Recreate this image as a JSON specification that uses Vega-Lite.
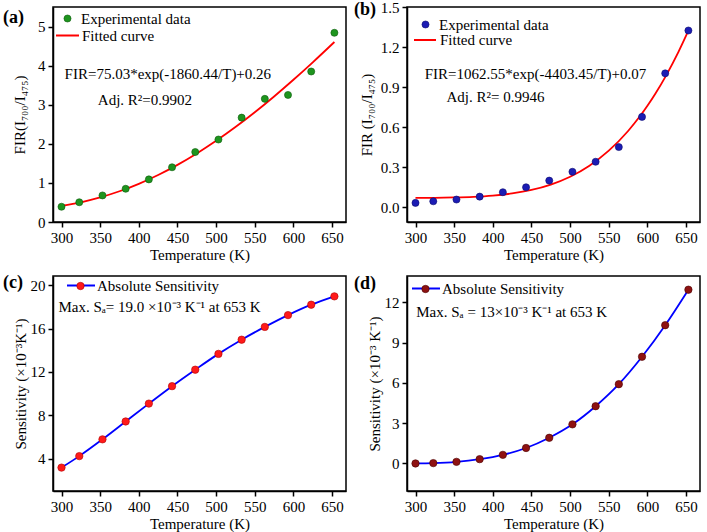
{
  "$schema": "https://vega.github.io/schema/vega-lite/v6.json",
  "padding": {"left": 2, "top": -1, "right": 0, "bottom": 0},
  "background": "white",
  "columns": 2,
  "spacing": {"row": 54, "column": 61},
  "bounds": "flush",
  "resolve": {
    "scale": {"color": "independent", "fill": "independent", "x": "independent", "y": "independent"},
    "legend": {"color": "independent", "fill": "independent"}
  },
  "datasets": {
    "a_exp": [
      {"T": 300, "FIR": 0.39}, {"T": 323, "FIR": 0.505}, {"T": 353, "FIR": 0.68}, {"T": 383, "FIR": 0.85},
      {"T": 413, "FIR": 1.09}, {"T": 443, "FIR": 1.4}, {"T": 473, "FIR": 1.79}, {"T": 503, "FIR": 2.11},
      {"T": 533, "FIR": 2.67}, {"T": 563, "FIR": 3.15}, {"T": 593, "FIR": 3.25}, {"T": 623, "FIR": 3.85},
      {"T": 653, "FIR": 4.84}
    ],
    "a_fit": [
      {"T": 300, "FIR": 0.412}, {"T": 325, "FIR": 0.505}, {"T": 350, "FIR": 0.629}, {"T": 375, "FIR": 0.786},
      {"T": 400, "FIR": 0.977}, {"T": 425, "FIR": 1.202}, {"T": 450, "FIR": 1.462}, {"T": 475, "FIR": 1.754},
      {"T": 500, "FIR": 2.077}, {"T": 525, "FIR": 2.429}, {"T": 550, "FIR": 2.808}, {"T": 575, "FIR": 3.212},
      {"T": 600, "FIR": 3.638}, {"T": 625, "FIR": 4.084}, {"T": 653, "FIR": 4.604}
    ],
    "b_exp": [
      {"T": 300, "FIR": 0.033}, {"T": 323, "FIR": 0.045}, {"T": 353, "FIR": 0.058}, {"T": 383, "FIR": 0.08},
      {"T": 413, "FIR": 0.113}, {"T": 443, "FIR": 0.15}, {"T": 473, "FIR": 0.2}, {"T": 503, "FIR": 0.266},
      {"T": 533, "FIR": 0.341}, {"T": 563, "FIR": 0.451}, {"T": 593, "FIR": 0.677}, {"T": 623, "FIR": 1.003},
      {"T": 653, "FIR": 1.324}
    ],
    "b_fit": [
      {"T": 300, "FIR": 0.0704}, {"T": 325, "FIR": 0.0714}, {"T": 350, "FIR": 0.0737}, {"T": 375, "FIR": 0.0784},
      {"T": 400, "FIR": 0.0876}, {"T": 425, "FIR": 0.1036}, {"T": 450, "FIR": 0.1298}, {"T": 475, "FIR": 0.1701},
      {"T": 500, "FIR": 0.2291}, {"T": 525, "FIR": 0.3119}, {"T": 550, "FIR": 0.4242}, {"T": 575, "FIR": 0.5717},
      {"T": 590, "FIR": 0.6795}, {"T": 600, "FIR": 0.7603}, {"T": 610, "FIR": 0.8485}, {"T": 625, "FIR": 0.9958},
      {"T": 640, "FIR": 1.162}, {"T": 653, "FIR": 1.3223}
    ],
    "c_sa": [
      {"T": 300, "S": 3.16}, {"T": 323, "S": 4.22}, {"T": 353, "S": 5.77}, {"T": 383, "S": 7.42},
      {"T": 413, "S": 9.07}, {"T": 443, "S": 10.68}, {"T": 473, "S": 12.2}, {"T": 503, "S": 13.66},
      {"T": 533, "S": 14.97}, {"T": 563, "S": 16.15}, {"T": 593, "S": 17.24}, {"T": 623, "S": 18.2},
      {"T": 653, "S": 18.97}
    ],
    "d_sa": [
      {"T": 300, "S": 0.0}, {"T": 323, "S": 0.025}, {"T": 353, "S": 0.12}, {"T": 383, "S": 0.32},
      {"T": 413, "S": 0.64}, {"T": 443, "S": 1.15}, {"T": 473, "S": 1.91}, {"T": 503, "S": 2.91},
      {"T": 533, "S": 4.26}, {"T": 563, "S": 5.9}, {"T": 593, "S": 7.94}, {"T": 623, "S": 10.29},
      {"T": 653, "S": 12.93}
    ],
    "one": [{}]
  },
  "concat": [
    {
      "width": 293, "height": 215,
      "title": {"text": "(a)", "anchor": "start", "frame": "group", "orient": "top", "offset": 0, "dx": -50, "dy": 33.5, "baseline": "alphabetic", "fontSize": 18, "fontWeight": "bold", "font": "Liberation Serif", "color": "black"},
      "resolve": {"scale": {"color": "independent", "fill": "independent"}},
      "layer": [
        {
          "data": {"name": "a_fit"},
          "mark": {"type": "line", "interpolate": "monotone", "strokeWidth": 1.8},
          "encoding": {
            "x": {"field": "T", "type": "quantitative", "scale": {"domain": [289, 668], "nice": false, "zero": false}, "axis": {"values": [300, 350, 400, 450, 500, 550, 600, 650], "title": "Temperature (K)"}},
            "y": {"field": "FIR", "type": "quantitative", "scale": {"domain": [0, 5.5], "nice": false, "zero": false}, "axis": {"values": [0, 1, 2, 3, 4, 5], "title": "FIR(I₇₀₀/I₄₇₅)", "titlePadding": 10}},
            "color": {"datum": "Fitted curve", "scale": {"domain": ["Fitted curve"], "range": ["#ff0000"]}, "legend": {"orient": "none", "legendX": 2, "legendY": 16, "symbolType": "stroke", "symbolSize": 529, "symbolStrokeWidth": 2, "labelOffset": 2, "title": null}}
          }
        },
        {
          "data": {"name": "a_exp"},
          "mark": {"type": "point", "filled": true, "size": 50, "opacity": 1, "stroke": "#0b5a0b", "strokeWidth": 0.6},
          "encoding": {
            "x": {"field": "T", "type": "quantitative"},
            "y": {"field": "FIR", "type": "quantitative"},
            "fill": {"datum": "Experimental data", "scale": {"domain": ["Experimental data"], "range": ["#1e951e"]}, "legend": {"orient": "none", "legendX": 7, "legendY": 4, "symbolType": "circle", "symbolSize": 50, "symbolStrokeColor": "#0b5a0b", "symbolStrokeWidth": 0.6, "labelOffset": 6, "title": null}}
          }
        },
        {
          "data": {"name": "one"},
          "mark": {"type": "text", "align": "left", "baseline": "middle", "fontSize": 15},
          "encoding": {"x": {"datum": 304, "type": "quantitative"}, "y": {"datum": 3.78, "type": "quantitative"}, "text": {"value": "FIR=75.03*exp(-1860.44/T)+0.26"}}
        },
        {
          "data": {"name": "one"},
          "mark": {"type": "text", "align": "left", "baseline": "middle", "fontSize": 15},
          "encoding": {"x": {"datum": 347, "type": "quantitative"}, "y": {"datum": 3.13, "type": "quantitative"}, "text": {"value": "Adj. R²=0.9902"}}
        }
      ]
    },
    {
      "width": 293, "height": 215,
      "title": {"text": "(b)", "anchor": "start", "frame": "group", "orient": "top", "offset": 0, "dx": -53, "dy": 32.5, "baseline": "alphabetic", "fontSize": 18, "fontWeight": "bold", "font": "Liberation Serif", "color": "black"},
      "resolve": {"scale": {"color": "independent", "fill": "independent"}},
      "layer": [
        {
          "data": {"name": "b_fit"},
          "mark": {"type": "line", "interpolate": "monotone", "strokeWidth": 1.8},
          "encoding": {
            "x": {"field": "T", "type": "quantitative", "scale": {"domain": [289, 668], "nice": false, "zero": false}, "axis": {"values": [300, 350, 400, 450, 500, 550, 600, 650], "title": "Temperature (K)"}},
            "y": {"field": "FIR", "type": "quantitative", "scale": {"domain": [-0.11, 1.5], "nice": false, "zero": false}, "axis": {"values": [0, 0.3, 0.6, 0.9, 1.2, 1.5], "format": ".1f", "title": "FIR (I₇₀₀/I₄₇₅)"}},
            "color": {"datum": "Fitted curve", "scale": {"domain": ["Fitted curve"], "range": ["#ff0000"]}, "legend": {"orient": "none", "legendX": 6, "legendY": 21, "symbolType": "stroke", "symbolSize": 484, "symbolStrokeWidth": 2, "labelOffset": 3, "title": null}}
          }
        },
        {
          "data": {"name": "b_exp"},
          "mark": {"type": "point", "filled": true, "size": 50, "opacity": 1, "stroke": "#0a0a6e", "strokeWidth": 0.6},
          "encoding": {
            "x": {"field": "T", "type": "quantitative"},
            "y": {"field": "FIR", "type": "quantitative"},
            "fill": {"datum": "Experimental data", "scale": {"domain": ["Experimental data"], "range": ["#1c1cb4"]}, "legend": {"orient": "none", "legendX": 11, "legendY": 10, "symbolType": "circle", "symbolSize": 50, "symbolStrokeColor": "#0a0a6e", "symbolStrokeWidth": 0.6, "labelOffset": 6, "title": null}}
          }
        },
        {
          "data": {"name": "one"},
          "mark": {"type": "text", "align": "left", "baseline": "middle", "fontSize": 15},
          "encoding": {"x": {"datum": 312, "type": "quantitative"}, "y": {"datum": 1.0, "type": "quantitative"}, "text": {"value": "FIR=1062.55*exp(-4403.45/T)+0.07"}}
        },
        {
          "data": {"name": "one"},
          "mark": {"type": "text", "align": "left", "baseline": "middle", "fontSize": 15},
          "encoding": {"x": {"datum": 340, "type": "quantitative"}, "y": {"datum": 0.825, "type": "quantitative"}, "text": {"value": "Adj. R²= 0.9946"}}
        }
      ]
    },
    {
      "width": 293, "height": 215,
      "title": {"text": "(c)", "anchor": "start", "frame": "group", "orient": "top", "offset": 0, "dx": -50, "dy": 35, "baseline": "alphabetic", "fontSize": 18, "fontWeight": "bold", "font": "Liberation Serif", "color": "black"},
      "resolve": {"scale": {"color": "independent", "fill": "independent"}},
      "layer": [
        {
          "data": {"name": "c_sa"},
          "mark": {"type": "line", "interpolate": "monotone", "strokeWidth": 1.8},
          "encoding": {
            "x": {"field": "T", "type": "quantitative", "scale": {"domain": [289, 668], "nice": false, "zero": false}, "axis": {"values": [300, 350, 400, 450, 500, 550, 600, 650], "title": "Temperature (K)"}},
            "y": {"field": "S", "type": "quantitative", "scale": {"domain": [1, 20.85], "nice": false, "zero": false}, "axis": {"values": [4, 8, 12, 16, 20], "title": "Sensitivity (×10⁻³K⁻¹)", "titlePadding": 2}},
            "color": {"datum": "Absolute Sensitivity", "scale": {"domain": ["Absolute Sensitivity"], "range": ["#0000ff"]}, "legend": {"orient": "none", "legendX": 13, "legendY": -5.5, "symbolType": "stroke", "symbolSize": 784, "symbolStrokeWidth": 2, "labelOffset": 1, "title": null}}
          }
        },
        {
          "data": {"name": "c_sa"},
          "mark": {"type": "point", "filled": true, "size": 55, "opacity": 1, "stroke": "#b00000", "strokeWidth": 0.6},
          "encoding": {
            "x": {"field": "T", "type": "quantitative"},
            "y": {"field": "S", "type": "quantitative"},
            "fill": {"datum": "pt", "scale": {"domain": ["pt"], "range": ["#ff1a1a"]}, "legend": {"orient": "none", "legendX": 20, "legendY": 2.5, "symbolType": "circle", "symbolSize": 55, "symbolStrokeColor": "#b00000", "symbolStrokeWidth": 0.6, "labelExpr": "''", "title": null}}
          }
        },
        {
          "data": {"name": "one"},
          "mark": {"type": "text", "align": "left", "baseline": "middle", "fontSize": 15},
          "encoding": {"x": {"datum": 296, "type": "quantitative"}, "y": {"datum": 17.95, "type": "quantitative"}, "text": {"value": "Max. Sₐ= 19.0 ×10⁻³ K⁻¹ at 653 K"}}
        }
      ]
    },
    {
      "width": 293, "height": 215,
      "title": {"text": "(d)", "anchor": "start", "frame": "group", "orient": "top", "offset": 0, "dx": -53, "dy": 33, "baseline": "alphabetic", "fontSize": 18, "fontWeight": "bold", "font": "Liberation Serif", "color": "black"},
      "resolve": {"scale": {"color": "independent", "fill": "independent"}},
      "layer": [
        {
          "data": {"name": "d_sa"},
          "mark": {"type": "line", "interpolate": "monotone", "strokeWidth": 1.8},
          "encoding": {
            "x": {"field": "T", "type": "quantitative", "scale": {"domain": [289, 668], "nice": false, "zero": false}, "axis": {"values": [300, 350, 400, 450, 500, 550, 600, 650], "title": "Temperature (K)"}},
            "y": {"field": "S", "type": "quantitative", "scale": {"domain": [-2.05, 13.95], "nice": false, "zero": false}, "axis": {"values": [0, 3, 6, 9, 12], "title": "Sensitivity (×10⁻³ K⁻¹)", "titlePadding": 2}},
            "color": {"datum": "Absolute Sensitivity", "scale": {"domain": ["Absolute Sensitivity"], "range": ["#0000ff"]}, "legend": {"orient": "none", "legendX": 4, "legendY": -2.5, "symbolType": "stroke", "symbolSize": 784, "symbolStrokeWidth": 2, "labelOffset": 1, "title": null}}
          }
        },
        {
          "data": {"name": "d_sa"},
          "mark": {"type": "point", "filled": true, "size": 55, "opacity": 1, "stroke": "#4a0000", "strokeWidth": 0.6},
          "encoding": {
            "x": {"field": "T", "type": "quantitative"},
            "y": {"field": "S", "type": "quantitative"},
            "fill": {"datum": "pt", "scale": {"domain": ["pt"], "range": ["#8e1212"]}, "legend": {"orient": "none", "legendX": 11, "legendY": 5.5, "symbolType": "circle", "symbolSize": 55, "symbolStrokeColor": "#4a0000", "symbolStrokeWidth": 0.6, "labelExpr": "''", "title": null}}
          }
        },
        {
          "data": {"name": "one"},
          "mark": {"type": "text", "align": "left", "baseline": "middle", "fontSize": 15},
          "encoding": {"x": {"datum": 301, "type": "quantitative"}, "y": {"datum": 11.26, "type": "quantitative"}, "text": {"value": "Max. Sₐ = 13×10⁻³ K⁻¹ at 653 K"}}
        }
      ]
    }
  ],
  "config": {
    "font": "Liberation Serif",
    "view": {"stroke": "black", "strokeWidth": 1.5},
    "text": {"font": "Liberation Serif", "color": "black"},
    "axis": {
      "labelFont": "Liberation Serif", "labelFontSize": 15, "labelColor": "black",
      "titleFont": "Liberation Serif", "titleFontSize": 15, "titleFontWeight": "normal", "titleColor": "black",
      "domainColor": "black", "domainWidth": 1.5, "tickColor": "black", "tickWidth": 1.5, "tickSize": 5,
      "grid": false, "labelPadding": 3
    },
    "axisX": {"titlePadding": 2},
    "axisY": {"titlePadding": 6},
    "legend": {"labelFont": "Liberation Serif", "labelFontSize": 15, "labelColor": "black", "padding": 0, "rowPadding": 0, "offset": 0}
  }
}
